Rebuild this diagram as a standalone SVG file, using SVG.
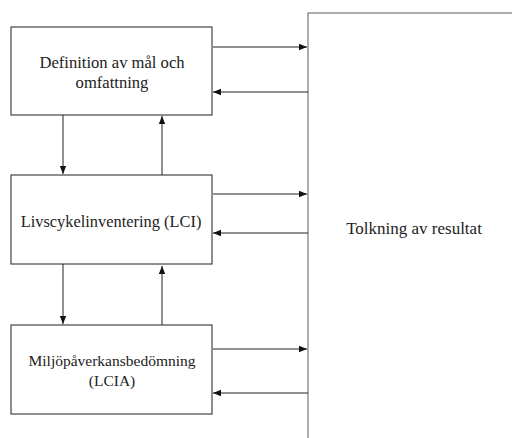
<svg xmlns="http://www.w3.org/2000/svg" width="512" height="438" viewBox="0 0 512 438">
<defs>
<marker id="ah" viewBox="0 0 10 10" refX="10" refY="5" markerWidth="8" markerHeight="8" markerUnits="userSpaceOnUse" orient="auto">
<path d="M0,1 L10,5 L0,9 z" fill="#111"/>
</marker>
<style>
.box{fill:#fff;stroke:#444;stroke-width:1.2}
.big{fill:#fff;stroke:#777;stroke-width:1.2}
.t{font-family:"Liberation Serif","DejaVu Serif",serif;fill:#222;text-anchor:middle}
.c line{stroke:#222;stroke-width:1;marker-end:url(#ah)}
</style>
</defs>
<g id="tolkning">
<rect class="big" x="308" y="13" width="220" height="440"/>
<text class="t" x="414" y="234" font-size="17">Tolkning av resultat</text>
</g>
<g id="definition">
<rect class="box" x="11" y="27" width="201" height="88"/>
<text class="t" x="112" y="68" font-size="16.6">Definition av mål och</text>
<text class="t" x="112" y="88" font-size="16.6">omfattning</text>
</g>
<g id="lci">
<rect class="box" x="11" y="175" width="201" height="89"/>
<text class="t" x="111" y="227" font-size="16.4">Livscykelinventering (LCI)</text>
</g>
<g id="lcia">
<rect class="box" x="11" y="325" width="201" height="89"/>
<text class="t" x="112" y="366" font-size="15.5">Miljöpåverkansbedömning</text>
<text class="t" x="112" y="386" font-size="15.5">(LCIA)</text>
</g>
<g class="c" id="connectors">
<line x1="213" y1="47" x2="307" y2="47"/>
<line x1="308" y1="92" x2="213" y2="92"/>
<line x1="63" y1="115" x2="63" y2="174"/>
<line x1="162" y1="175" x2="162" y2="116"/>
<line x1="213" y1="194" x2="307" y2="194"/>
<line x1="308" y1="233" x2="213" y2="233"/>
<line x1="63" y1="264" x2="63" y2="324"/>
<line x1="162" y1="325" x2="162" y2="266"/>
<line x1="213" y1="349" x2="307" y2="349"/>
<line x1="308" y1="393" x2="213" y2="393"/>
</g>
</svg>
